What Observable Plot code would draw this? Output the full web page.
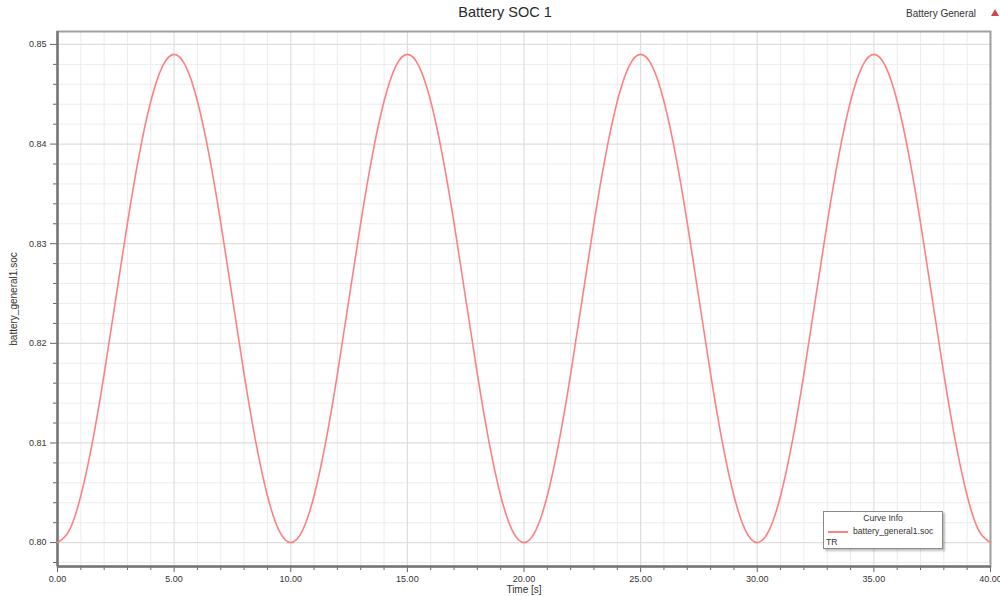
<!DOCTYPE html>
<html>
<head>
<meta charset="utf-8">
<script src="https://cdn.jsdelivr.net/npm/d3@7"></script>
<script src="https://cdn.jsdelivr.net/npm/@observablehq/plot@0.6"></script>
<style>
  body { margin: 0; background: #fff; font-family: "Liberation Sans", Arial, sans-serif; }
  #wrap { position: relative; width: 1000px; height: 596px; overflow: hidden; }
  #title { position: absolute; left: 0; width: 1010px; top: 4px; text-align: center; font-size: 14.5px; color: #2a2a2a; }
  #tag { position: absolute; left: 906px; top: 8px; font-size: 10px; color: #333; }
  #tri { position: absolute; left: 991px; top: 9px; width: 0; height: 0; border-left: 4px solid transparent; border-right: 4px solid transparent; border-bottom: 7px solid #d0474a; }
  #legend { position: absolute; left: 823px; top: 511px; width: 118px; height: 36px; border: 1px solid #8a8a8a; background: #fff; box-shadow: 2px 2px 2px rgba(0,0,0,0.25); font-size: 8.6px; color: #333; }
  #legend .hd { text-align: center; margin-top: 1px; }
  #legend .row { position: absolute; left: 4px; top: 14px; white-space: nowrap; }
  #legend .sw { display: inline-block; width: 20px; height: 2px; background: #ff8080; vertical-align: middle; margin-right: 5px; }
  #legend .tr { position: absolute; left: 2px; top: 25px; }
  g[aria-label="x-axis label"], g[aria-label="y-axis label"] { font-size: 10px; }
</style>
</head>
<body>
<div id="wrap">
  <div id="chart"></div>
  <div id="title">Battery SOC 1</div>
  <div id="tag">Battery General</div>
  <div id="tri"></div>
  <div id="legend">
    <div class="hd">Curve Info</div>
    <div class="row"><span class="sw"></span>battery_general1.soc</div>
    <div class="tr">TR</div>
  </div>
</div>
<script>
// Sample times [s]
const time = [
  0, 0.5, 1, 1.5, 2, 2.5, 3, 3.5, 4, 4.5, 5, 5.5, 6, 6.5, 7, 7.5, 8, 8.5, 9, 9.5,
  10, 10.5, 11, 11.5, 12, 12.5, 13, 13.5, 14, 14.5, 15, 15.5, 16, 16.5, 17, 17.5, 18, 18.5, 19, 19.5,
  20, 20.5, 21, 21.5, 22, 22.5, 23, 23.5, 24, 24.5, 25, 25.5, 26, 26.5, 27, 27.5, 28, 28.5, 29, 29.5,
  30, 30.5, 31, 31.5, 32, 32.5, 33, 33.5, 34, 34.5, 35, 35.5, 36, 36.5, 37, 37.5, 38, 38.5, 39, 39.5,
  40
];
// battery_general1.soc
const soc = [
  0.8000, 0.8012, 0.8047, 0.8101, 0.8169, 0.8245, 0.8321, 0.8389, 0.8443, 0.8478,
  0.8490, 0.8478, 0.8443, 0.8389, 0.8321, 0.8245, 0.8169, 0.8101, 0.8047, 0.8012,
  0.8000, 0.8012, 0.8047, 0.8101, 0.8169, 0.8245, 0.8321, 0.8389, 0.8443, 0.8478,
  0.8490, 0.8478, 0.8443, 0.8389, 0.8321, 0.8245, 0.8169, 0.8101, 0.8047, 0.8012,
  0.8000, 0.8012, 0.8047, 0.8101, 0.8169, 0.8245, 0.8321, 0.8389, 0.8443, 0.8478,
  0.8490, 0.8478, 0.8443, 0.8389, 0.8321, 0.8245, 0.8169, 0.8101, 0.8047, 0.8012,
  0.8000, 0.8012, 0.8047, 0.8101, 0.8169, 0.8245, 0.8321, 0.8389, 0.8443, 0.8478,
  0.8490, 0.8478, 0.8443, 0.8389, 0.8321, 0.8245, 0.8169, 0.8101, 0.8047, 0.8012,
  0.8000
];
const xMajor = [0, 5, 10, 15, 20, 25, 30, 35, 40];
const xMinor = [1, 2, 3, 4, 6, 7, 8, 9, 11, 12, 13, 14, 16, 17, 18, 19, 21, 22, 23, 24, 26, 27, 28, 29, 31, 32, 33, 34, 36, 37, 38, 39];
const yMajor = [0.80, 0.81, 0.82, 0.83, 0.84, 0.85];
const yMinor = [0.798, 0.802, 0.804, 0.806, 0.808, 0.812, 0.814, 0.816, 0.818, 0.822, 0.824, 0.826, 0.828, 0.832, 0.834, 0.836, 0.838, 0.842, 0.844, 0.846, 0.848];
const xLabel = "Time [s]";
const yLabel = "battery_general1.soc";

const data = time.map((t, i) => ({t, v: soc[i]}));

const chart = Plot.plot({
  width: 1000,
  height: 596,
  marginLeft: 57,
  marginRight: 10,
  marginTop: 31,
  marginBottom: 30,
  style: {fontFamily: "'Liberation Sans', Arial, sans-serif", fontSize: "9px", color: "#333", background: "#fff"},
  x: {domain: [0, 40]},
  y: {domain: [0.7976, 0.8513]},
  marks: [
    Plot.gridX(xMinor, {stroke: "#ececec", strokeOpacity: 1, strokeWidth: 1}),
    Plot.gridY(yMinor, {stroke: "#ececec", strokeOpacity: 1, strokeWidth: 1}),
    Plot.gridX(xMajor, {stroke: "#dedede", strokeOpacity: 1, strokeWidth: 1.2}),
    Plot.gridY(yMajor, {stroke: "#dedede", strokeOpacity: 1, strokeWidth: 1.2}),
    Plot.frame({stroke: "#a0a0a0", strokeWidth: 2}),
    Plot.axisX(xMinor, {tickSize: 4, text: null, stroke: "#666", label: null}),
    Plot.axisX(xMajor, {tickSize: 6, tickPadding: 3, stroke: "#666", tickFormat: d3.format(".2f"), label: xLabel, labelAnchor: "center", labelArrow: "none", labelOffset: 26}),
    Plot.axisY(yMinor, {tickSize: 4, text: null, stroke: "#666", label: null}),
    Plot.axisY(yMajor, {tickSize: 7, tickPadding: 4, stroke: "#666", tickFormat: d3.format(".2f"), label: yLabel, labelAnchor: "center", labelArrow: "none", labelOffset: 48}),
    Plot.ruleX([0], {stroke: "#777", strokeWidth: 2.5}),
    Plot.ruleY([0.7976], {stroke: "#777", strokeWidth: 2.5}),
    Plot.line(data, {x: "t", y: "v", stroke: "#ff8080", strokeWidth: 1.6, curve: "natural"})
  ]
});
document.getElementById("chart").appendChild(chart);
</script>
</body>
</html>
